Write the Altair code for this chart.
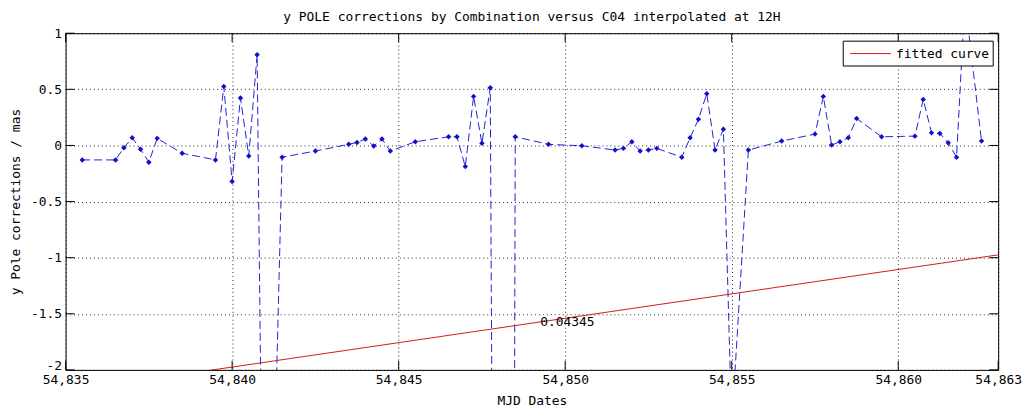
import altair as alt
import pandas as pd

# ---- data ----
mjd = [54835.5, 54836.5, 54836.75, 54837.0, 54837.25, 54837.5, 54837.75, 54838.5,
       54839.5, 54839.75, 54840.0, 54840.25, 54840.5, 54840.75, 54841.0, 54841.5,
       54842.5, 54843.5, 54843.75, 54844.0, 54844.25, 54844.5, 54844.75, 54845.5,
       54846.5, 54846.75, 54847.0, 54847.25, 54847.5, 54847.75, 54848.25, 54848.5,
       54849.5, 54850.5, 54851.5, 54851.75, 54852.0, 54852.25, 54852.5, 54852.75,
       54853.5, 54853.75, 54854.0, 54854.25, 54854.5, 54854.75, 54855.0, 54855.5,
       54856.5, 54857.5, 54857.75, 54858.0, 54858.25, 54858.5, 54858.75, 54859.5,
       54860.5, 54860.75, 54861.0, 54861.25, 54861.5, 54861.75, 54862.0, 54862.5]
corr = [-0.129, -0.129, -0.020, 0.068, -0.034, -0.149, 0.063, -0.070,
        -0.129, 0.525, -0.321, 0.422, -0.094, 0.808, -6.0, -0.105,
        -0.050, 0.010, 0.027, 0.057, -0.005, 0.057, -0.050, 0.033,
        0.077, 0.077, -0.188, 0.437, 0.019, 0.514, -28.0, 0.077,
        0.010, -0.003, -0.041, -0.026, 0.033, -0.050, -0.041, -0.026,
        -0.105, 0.068, 0.233, 0.461, -0.041, 0.145, -2.5, -0.041,
        0.039, 0.101, 0.437, 0.004, 0.033, 0.068, 0.240, 0.077,
        0.083, 0.410, 0.112, 0.107, 0.024, -0.105, 1.3, 0.039]

fit_x = [54835.0, 54863.0]
fit_y = [-2.192, -0.975]

ann_x = [54849.25]
ann_y = [-1.57]
ann_text = ["0.04345"]

x_ticks = [54835, 54840, 54845, 54850, 54855, 54860, 54863]
y_ticks = [-2, -1.5, -1, -0.5, 0, 0.5, 1]

legend_labels = ["fitted curve"]
title_text = "y POLE corrections by Combination versus C04 interpolated at 12H"

FONT = "DejaVu Sans Mono"
W, H = 939, 339
BLUE = "#2222d4"
RED = "#d81818"

df = pd.DataFrame({"mjd": mjd, "val": corr})
fit_df = pd.DataFrame({"mjd": fit_x, "val": fit_y})
ann_df = pd.DataFrame({"mjd": ann_x, "val": ann_y, "t": ann_text})
xt_df = pd.DataFrame({"mjd": x_ticks})
yt_df = pd.DataFrame({"val": y_ticks})
leg_df = pd.DataFrame({"label": legend_labels})

x_scale = alt.Scale(domain=[54835, 54863], nice=False, zero=False)
y_scale = alt.Scale(domain=[-2, 1], nice=False, zero=False)

x_axis = alt.Axis(values=x_ticks, format=",d", labelFlush=False, grid=True,
                  ticks=False, tickSize=0, domain=False, labelPadding=4,
                  title="MJD Dates", titlePadding=8)
y_axis = alt.Axis(values=y_ticks, labelExpr="'' + datum.value", grid=True,
                  ticks=False, tickSize=0, domain=False, labelPadding=4,
                  labelFlush=False,
                  labelBaseline={"condition": {"test": "datum.value == -2",
                                               "value": "alphabetic"},
                                 "value": "middle"},
                  title="y Pole corrections / mas", titlePadding=8)


def X():
    return alt.X("mjd:Q", scale=x_scale, axis=x_axis)


def Y():
    return alt.Y("val:Q", scale=y_scale, axis=y_axis)


line = alt.Chart(df).mark_line(color=BLUE, strokeWidth=1, strokeDash=[8, 4],
                               clip=True).encode(x=X(), y=Y())
pts = alt.Chart(df).mark_point(filled=True, shape="diamond", size=30, color="#1010cc",
                               opacity=1, clip=True).encode(x=X(), y=Y())
fit = alt.Chart(fit_df).mark_line(color=RED, strokeWidth=1, clip=True).encode(x=X(), y=Y())
ann = alt.Chart(ann_df).mark_text(align="left", baseline="middle", font=FONT, fontSize=13,
                                  color="black").encode(x=X(), y=Y(), text="t:N")

# inward ticks on all four sides
tick_b = alt.Chart(xt_df).mark_rule(color="black", strokeWidth=1).encode(
    x=X(), y=alt.value(H), y2=alt.value(H - 9))
tick_t = alt.Chart(xt_df).mark_rule(color="black", strokeWidth=1).encode(
    x=X(), y=alt.value(0), y2=alt.value(9))
tick_l = alt.Chart(yt_df).mark_rule(color="black", strokeWidth=1).encode(
    y=Y(), x=alt.value(0), x2=alt.value(9))
tick_r = alt.Chart(yt_df).mark_rule(color="black", strokeWidth=1).encode(
    y=Y(), x=alt.value(W), x2=alt.value(W - 9))

# legend box
leg_box = alt.Chart(leg_df).mark_rect(fill="white", stroke="black", strokeWidth=1).encode(
    x=alt.value(783), x2=alt.value(934), y=alt.value(8), y2=alt.value(33))
leg_line = alt.Chart(leg_df).mark_rule(color=RED, strokeWidth=1).encode(
    x=alt.value(790), x2=alt.value(831), y=alt.value(20.5))
leg_text = alt.Chart(leg_df).mark_text(align="left", baseline="middle", font=FONT,
                                       fontSize=13, color="black").encode(
    x=alt.value(836), y=alt.value(20.5), text="label:N")

chart = alt.layer(line, pts, fit, ann, tick_b, tick_t, tick_l, tick_r,
                  leg_box, leg_line, leg_text).properties(
    width=W, height=H,
    title=alt.TitleParams(title_text, font=FONT, fontSize=13, fontWeight="normal",
                          color="black", anchor="middle", offset=10, frame="group",
                          dy=7),
    autosize=alt.AutoSizeParams(type="none"),
    padding={"left": 58, "top": 24, "right": 25, "bottom": 40},
    background="white",
).configure_view(stroke="black", strokeWidth=1).configure_axis(
    labelFont=FONT, labelFontSize=13, labelColor="black",
    titleFont=FONT, titleFontSize=13, titleFontWeight="normal", titleColor="black",
    gridColor="black", gridDash=[1, 3], gridOpacity=0.85, gridWidth=1,
)

chart.save("out.html", embed_options={"renderer": "svg", "actions": False})
